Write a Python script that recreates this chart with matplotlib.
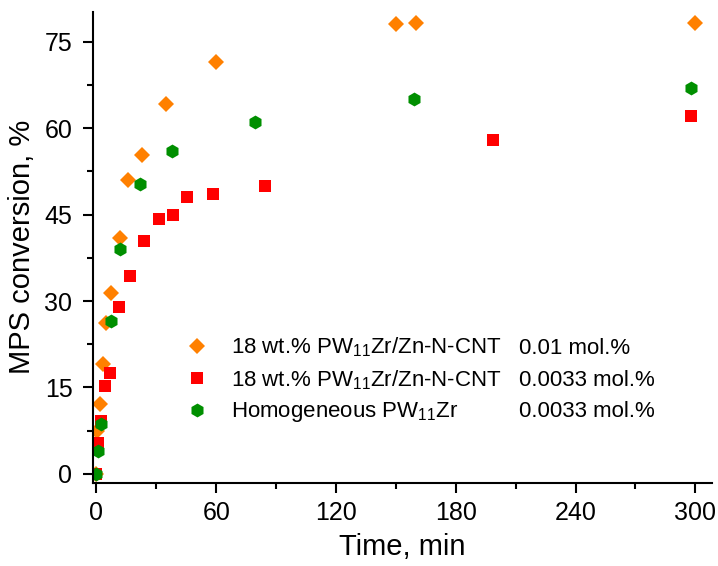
import matplotlib
matplotlib.use('Agg')
import matplotlib.pyplot as plt
from matplotlib.ticker import MultipleLocator

plt.rcParams['font.family'] = ['Liberation Sans', 'DejaVu Sans']
plt.rcParams['mathtext.fontset'] = 'custom'
plt.rcParams['mathtext.rm'] = 'Liberation Sans'
plt.rcParams['mathtext.it'] = 'Liberation Sans'
plt.rcParams['mathtext.default'] = 'rm'

# 18 wt.% PW11Zr/Zn-N-CNT, 0.01 mol.%
t_cnt1 = [0, 0.5, 2, 3.5, 5, 7.5, 12, 16, 23, 35, 60, 150, 160, 300]
y_cnt1 = [0, 7.5, 12.2, 19.0, 26.2, 31.4, 41.0, 51.0, 55.3, 64.2, 71.5, 78.1, 78.3, 78.3]

# 18 wt.% PW11Zr/Zn-N-CNT, 0.0033 mol.%
t_cnt2 = [0, 1, 2.5, 4.5, 7, 11.5, 17, 24, 31.5, 38.5, 45.5, 58.5, 84.5, 198.5, 298]
y_cnt2 = [0, 5.4, 9.2, 15.3, 17.5, 29.0, 34.4, 40.4, 44.3, 44.9, 48.1, 48.5, 50.0, 58.0, 62.1]

# Homogeneous PW11Zr, 0.0033 mol.%
t_hom = [0, 1, 2.5, 7.5, 12, 22, 38, 79.5, 159, 298]
y_hom = [0, 4.0, 8.7, 26.5, 39.1, 50.3, 56.0, 61.0, 65.0, 66.9]

names = ['18 wt.% PW$_{11}$Zr/Zn-N-CNT', '18 wt.% PW$_{11}$Zr/Zn-N-CNT',
         'Homogeneous PW$_{11}$Zr']
loadings = ['0.01 mol.%', '0.0033 mol.%', '0.0033 mol.%']

fig = plt.figure(figsize=(7.18, 5.66), dpi=100)
ax = fig.add_axes([0.129, 0.147, 0.863, 0.832])

ax.plot(t_cnt1, y_cnt1, 'D', color='#FF8000', ms=8.2, mew=0, label=names[0])
ax.plot(t_cnt2, y_cnt2, 's', color='#FF0000', ms=8.6, mew=0, label=names[1])
ax.plot(t_hom, y_hom, 'h', color='#008F00', ms=10, mew=0, label=names[2])

ax.set_xlim(-1.9, 308.5)
ax.set_ylim(-1.56, 80.2)
ax.xaxis.set_major_locator(MultipleLocator(60))
ax.xaxis.set_minor_locator(MultipleLocator(30))
ax.yaxis.set_major_locator(MultipleLocator(15))
ax.yaxis.set_minor_locator(MultipleLocator(7.5))

for s in ['top', 'right']:
    ax.spines[s].set_visible(False)
for s in ['left', 'bottom']:
    ax.spines[s].set_linewidth(1.5)

ax.tick_params(which='major', length=7, width=1.5, labelsize=18, pad=6)
ax.tick_params(which='minor', length=4, width=1.5)
ax.tick_params(axis='y', which='major', length=7.5, pad=7)

ax.set_xlabel('Time, min', fontsize=21, labelpad=6)
ax.set_ylabel('MPS conversion, %', fontsize=21, labelpad=6)

leg = ax.legend(loc='upper left', bbox_to_anchor=(0.151, 0.312), frameon=False,
                fontsize=16, handlelength=1.0, handletextpad=1.0,
                labelspacing=0.39, borderaxespad=0, borderpad=0)

# second column: catalyst loading, on the same baselines as the legend rows
fig.canvas.draw()
for t, lab in zip(leg.get_texts(), loadings):
    xd, yd = t.get_transform().transform(t.get_position())
    ya = ax.transAxes.inverted().transform((xd, yd))[1]
    ax.text(0.688, ya, lab, transform=ax.transAxes, fontsize=16, va='baseline')

fig.savefig('out.png', dpi=100)
